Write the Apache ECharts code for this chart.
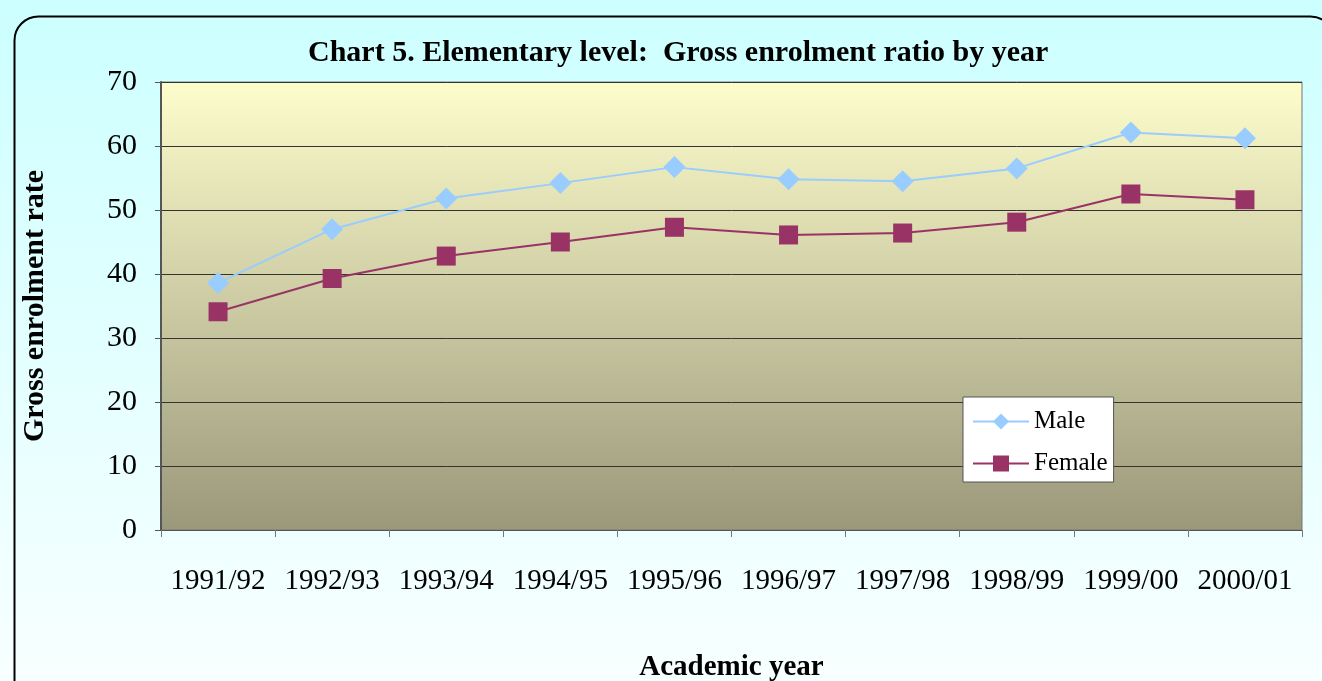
<!DOCTYPE html>
<html>
<head>
<meta charset="utf-8">
<script src="https://cdn.jsdelivr.net/npm/echarts@6/dist/echarts.min.js"></script>
<style>
  html, body { margin: 0; padding: 0; background: #fff; }
  #main { width: 1322px; height: 681px; }
</style>
</head>
<body>
<div id="main"></div>
<script>
var years = ['1991/92', '1992/93', '1993/94', '1994/95', '1995/96', '1996/97', '1997/98', '1998/99', '1999/00', '2000/01'];
var male = [38.6, 47.0, 51.8, 54.2, 56.7, 54.8, 54.5, 56.5, 62.1, 61.2];
var female = [34.1, 39.3, 42.8, 45.0, 47.3, 46.1, 46.4, 48.1, 52.5, 51.6];
var yTicks = [0, 10, 20, 30, 40, 50, 60, 70];

var serif = '"Liberation Serif", "DejaVu Serif", serif';
var chart = echarts.init(document.getElementById('main'));

var option = {
    backgroundColor: new echarts.graphic.LinearGradient(0, 0, 0, 1, [
        { offset: 0, color: '#ccffff' },
        { offset: 1, color: '#f8ffff' }
    ]),
    graphic: [{
        type: 'rect',
        left: 12, top: 14, z: 100, silent: true,
        shape: { width: 1320, height: 690, r: 24 },
        style: { fill: null, stroke: '#000', lineWidth: 2 }
    }],
    title: {
        text: 'Chart 5. Elementary level:  Gross enrolment ratio by year',
        left: 303, top: 33,
        textStyle: { fontFamily: serif, fontSize: 30, fontWeight: 'bold', color: '#000' }
    },
    legend: {
        orient: 'vertical',
        left: 963, top: 397,
        backgroundColor: '#fff',
        borderColor: '#555', borderWidth: 1,
        padding: [12, 6, 6, 9],
        itemWidth: 56, itemHeight: 20, itemGap: 17,
        textStyle: { fontFamily: serif, fontSize: 25, color: '#000' },
        data: ['Male', 'Female']
    },
    grid: {
        left: 161, right: 20, top: 82, bottom: 151,
        outerBoundsMode: 'none',
        show: true,
        backgroundColor: new echarts.graphic.LinearGradient(0, 0, 0, 1, [
            { offset: 0, color: '#fdfdcc' },
            { offset: 1, color: '#9a987a' }
        ]),
        borderColor: '#777', borderWidth: 1
    },
    xAxis: {
        type: 'category',
        data: years,
        boundaryGap: true,
        name: 'Academic year',
        nameLocation: 'middle',
        nameGap: 123,
        nameTextStyle: { fontFamily: serif, fontSize: 29, fontWeight: 'bold', color: '#000' },
        axisLine: { lineStyle: { color: '#555', width: 1 } },
        axisTick: { show: true, interval: 0, length: 7, lineStyle: { color: '#777' } },
        axisLabel: { interval: 0, hideOverlap: false, fontFamily: serif, fontSize: 29, color: '#000', margin: 37 }
    },
    yAxis: {
        type: 'value',
        min: yTicks[0], max: yTicks[yTicks.length - 1], interval: 10,
        name: 'Gross enrolment rate',
        nameLocation: 'middle',
        nameGap: 111,
        nameTextStyle: { fontFamily: serif, fontSize: 30, fontWeight: 'bold', color: '#000' },
        axisLine: { show: true, lineStyle: { color: '#555', width: 2 } },
        axisTick: { show: true, length: 6, lineStyle: { color: '#555' } },
        axisLabel: { fontFamily: serif, fontSize: 30, color: '#000', margin: 24 },
        splitLine: { show: true, lineStyle: { color: '#333', width: 1 } }
    },
    series: [{
        name: 'Male',
        type: 'line',
        data: male,
        symbol: 'diamond',
        symbolSize: 22,
        itemStyle: { color: '#99ccff' },
        lineStyle: { color: '#99ccff', width: 2 }
    }, {
        name: 'Female',
        type: 'line',
        data: female,
        symbol: 'rect',
        symbolSize: 19,
        itemStyle: { color: '#993366' },
        lineStyle: { color: '#993366', width: 2 }
    }]
};

chart.setOption(option);
</script>
</body>
</html>
